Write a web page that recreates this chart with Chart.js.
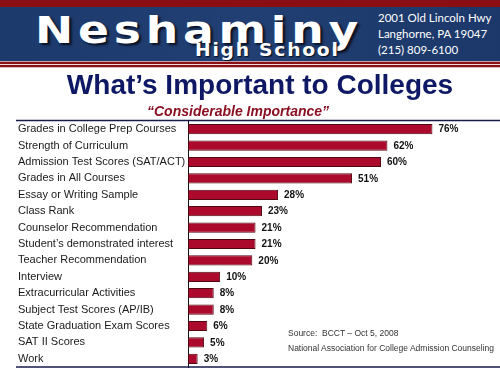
<!DOCTYPE html>
<html><head><meta charset="utf-8">
<script src="https://cdn.jsdelivr.net/npm/chart.js@4/dist/chart.umd.min.js"></script>
<style>
html,body{margin:0;padding:0;background:#fff;}
#wrap{position:relative;width:500px;height:375px;overflow:hidden;font-family:"Liberation Sans",Arial,sans-serif;}
#c{position:absolute;left:0;top:0;}
.abs{position:absolute;white-space:nowrap;}
#redtop{left:0;top:0;width:500px;height:7px;background:#8a0e13;}
#band{left:0;top:7px;width:500px;height:54px;background:linear-gradient(90deg,#1c3a6c,#213f72 50%,#1c386a);}
.s{left:0;width:500px;}
#name{left:35px;top:11px;font-family:"DejaVu Sans",sans-serif;font-weight:bold;font-size:38px;line-height:38px;color:#fff;letter-spacing:4px;transform:scaleX(1.2);transform-origin:0 0;text-shadow:2px 2px 2px #0a1020;}
#hs{left:195px;top:42px;font-family:"DejaVu Sans",sans-serif;font-weight:bold;font-size:17px;line-height:17px;color:#fff;letter-spacing:1.6px;transform:scaleX(1.1);transform-origin:0 0;text-shadow:1px 1px 1px #0a1020;}
.addr{left:378px;font-family:Lato,"Open Sans",sans-serif;font-size:11.5px;line-height:16px;color:#fff;}
#title{left:0;width:520px;text-align:center;top:71px;font-weight:bold;font-size:28px;line-height:28px;color:#0e1864;}
#sub{left:147px;top:104px;font-weight:bold;font-style:italic;font-size:14px;line-height:14px;color:#8b1022;}
.src{left:288px;font-size:8.5px;line-height:10px;color:#333;}
</style></head>
<body><div id="wrap">
<canvas id="c" width="500" height="375"></canvas>
<div class="abs" id="redtop"></div>
<div class="abs" id="band"></div>
<div class="abs s" style="top:61px;height:1px;background:#c4a4ac"></div>
<div class="abs s" style="top:62px;height:2px;background:#8b0f15"></div>
<div class="abs s" style="top:64px;height:1px;background:#eadde0"></div>
<div class="abs s" style="top:65px;height:2px;background:#8b0f15"></div>
<div class="abs s" style="top:67px;height:1px;background:#dcc0c6"></div>
<div class="abs" id="name">Neshaminy</div>
<div class="abs" id="hs">High School</div>
<div class="abs addr" style="top:10px">2001 Old Lincoln Hwy</div>
<div class="abs addr" style="top:26px">Langhorne, PA 19047</div>
<div class="abs addr" style="top:42px">(215) 809-6100</div>
<div class="abs" id="title">What’s Important to Colleges</div>
<div class="abs" id="sub">“Considerable Importance”</div>
<div class="abs src" style="top:328px">Source:&nbsp; BCCT – Oct 5, 2008</div>
<div class="abs src" style="top:343px">National Association for College Admission Counseling</div>
</div>
<script>
const categories = [
  "Grades in College Prep Courses",
  "Strength of Curriculum",
  "Admission Test Scores (SAT/ACT)",
  "Grades in All Courses",
  "Essay or Writing Sample",
  "Class Rank",
  "Counselor Recommendation",
  "Student’s demonstrated interest",
  "Teacher Recommendation",
  "Interview",
  "Extracurricular Activities",
  "Subject Test Scores (AP/IB)",
  "State Graduation Exam Scores",
  "SAT II Scores",
  "Work"
];
const values = [76, 62, 60, 51, 28, 23, 21, 21, 20, 10, 8, 8, 6, 5, 3];
const valueSuffix = "%";

const valueLabels = {
  id: 'valueLabels',
  afterDatasetsDraw(chart) {
    const ctx = chart.ctx;
    const meta = chart.getDatasetMeta(0);
    ctx.save();
    ctx.font = 'bold 10px "Liberation Sans", Arial, sans-serif';
    ctx.fillStyle = '#111';
    ctx.textAlign = 'left';
    ctx.textBaseline = 'middle';
    meta.data.forEach((bar, i) => {
      ctx.fillText(values[i] + valueSuffix, bar.x + 6, bar.y + 0.5);
    });
    ctx.restore();
  }
};
const frameLines = {
  id: 'frameLines',
  afterDraw(chart) {
    const ctx = chart.ctx, a = chart.chartArea;
    ctx.save();
    ctx.strokeStyle = '#1a1a4a';
    ctx.lineWidth = 1.5;
    ctx.beginPath();
    ctx.moveTo(16, a.top - 0.5); ctx.lineTo(chart.width, a.top - 0.5);
    ctx.moveTo(16, a.bottom); ctx.lineTo(chart.width, a.bottom);
    ctx.stroke();
    ctx.restore();
  }
};

new Chart(document.getElementById('c'), {
  type: 'bar',
  data: {
    labels: categories,
    datasets: [{
      data: values,
      backgroundColor: '#ac0a2c',
      borderColor: '#4e0812',
      borderWidth: 1,
      borderSkipped: false,
      barPercentage: 0.62,
      categoryPercentage: 1
    }]
  },
  options: {
    indexAxis: 'y',
    responsive: false,
    animation: false,
    layout: { padding: { top: 121, bottom: 8, left: 18, right: 0 } },
    plugins: { legend: { display: false }, tooltip: { enabled: false }, title: { display: false } },
    scales: {
      x: { display: false, min: 0, max: 97 },
      y: {
        afterFit(s) { s.width = 170; },
        grid: { display: false, drawTicks: false },
        border: { display: true, color: '#111', width: 1 },
        ticks: {
          crossAlign: 'far',
          autoSkip: false,
          padding: 0,
          color: '#1a1a1a',
          font: { family: '"Liberation Sans", Arial, sans-serif', size: 11 }
        }
      }
    }
  },
  plugins: [valueLabels, frameLines]
});
</script>
</body></html>
